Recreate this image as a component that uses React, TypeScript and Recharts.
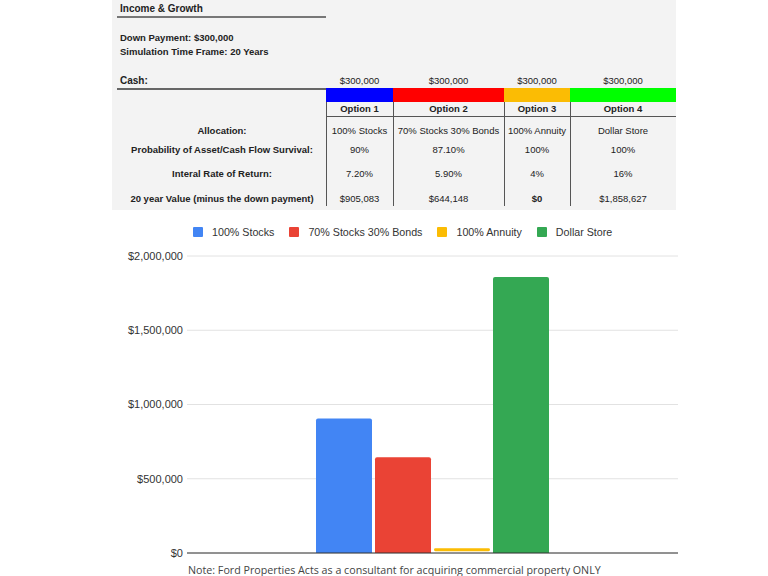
import { BarChart, Bar, XAxis, YAxis, CartesianGrid, ReferenceLine, Legend } from 'recharts';

// table
const options = ['Option 1', 'Option 2', 'Option 3', 'Option 4'];
const cash = ['$300,000', '$300,000', '$300,000', '$300,000'];
const allocation = ['100% Stocks', '70% Stocks 30% Bonds', '100% Annuity', 'Dollar Store'];
const survival = ['90%', '87.10%', '100%', '100%'];
const irr = ['7.20%', '5.90%', '4%', '16%'];
const values20 = ['$905,083', '$644,148', '$0', '$1,858,627'];
const bandColors = ['#0000ff', '#ff0000', '#fbbc04', '#00ff00'];

// chart
const seriesKeys = ['stocks', 'bonds', 'annuity', 'dollar'];
const seriesNames = ['100% Stocks', '70% Stocks 30% Bonds', '100% Annuity', 'Dollar Store'];
const seriesColors = ['#4285f4', '#ea4335', '#fbbc04', '#34a853'];
const stocksValue = 905083;
const bondsValue = 644148;
const annuityRange = [12000, 32000];
const dollarValue = 1858627;
const yTicks = [0, 500000, 1000000, 1500000, 2000000];

const data = [
  { name: '20 year Value', stocks: stocksValue, bonds: bondsValue, annuity: annuityRange, dollar: dollarValue },
];

const colEdges = [326, 393, 504, 570, 676];
const labelX = 222;
const FONT = '"Liberation Sans", Arial, sans-serif';

function T({ x, y, children, bold = false, align = 'center', size = 9.5 }: any) {
  return (
    <div
      style={{
        position: 'absolute',
        left: x,
        top: y,
        transform: align === 'center' ? 'translate(-50%, -50%)' : 'translate(0, -50%)',
        fontFamily: FONT,
        fontSize: size,
        fontWeight: bold ? 700 : 400,
        color: '#222',
        whiteSpace: 'nowrap',
        lineHeight: 1,
      }}
    >
      {children}
    </div>
  );
}

function Line({ x, y, w, h, color = '#555' }: any) {
  return <div style={{ position: 'absolute', left: x, top: y, width: w, height: h, background: color }} />;
}

function LegendContent() {
  return (
    <div style={{ display: 'flex', alignItems: 'center', paddingLeft: 193, fontFamily: FONT, fontSize: 10.7, color: '#333' }}>
      {seriesNames.map((n, i) => (
        <div key={n} style={{ display: 'flex', alignItems: 'center', marginRight: 15 }}>
          <div style={{ width: 10, height: 10, background: seriesColors[i], borderRadius: 1, marginRight: 9 }} />
          <span>{n}</span>
        </div>
      ))}
    </div>
  );
}

export default function App() {
  const centers = options.map((_, i) => (colEdges[i] + colEdges[i + 1]) / 2);
  const rows = [
    { label: 'Allocation:', vals: allocation, y: 131 },
    { label: 'Probability of Asset/Cash Flow Survival:', vals: survival, y: 150 },
    { label: 'Interal Rate of Return:', vals: irr, y: 174 },
    { label: '20 year Value (minus the  down payment)', vals: values20, y: 199 },
  ];

  return (
    <div style={{ position: 'absolute', left: 0, top: 0, width: 768, height: 576, background: '#fff', overflow: 'hidden' }}>
      {/* spreadsheet block */}
      <div style={{ position: 'absolute', left: 112, top: 0, width: 564, height: 210, background: '#f3f3f3' }} />
      <T x={120} y={9} bold align="left" size={10}>Income &amp; Growth</T>
      <Line x={117} y={16} w={209} h={1.5} color="#777" />
      <T x={120} y={38} bold align="left">Down Payment: $300,000</T>
      <T x={120} y={52} bold align="left">Simulation Time Frame: 20 Years</T>
      <T x={120} y={81} bold align="left" size={10}>Cash:</T>
      {cash.map((c, i) => (
        <T key={'c' + i} x={centers[i]} y={81}>{c}</T>
      ))}
      <Line x={117} y={88} w={209} h={1.5} color="#666" />
      {bandColors.map((c, i) => (
        <Line key={'b' + i} x={colEdges[i]} y={88} w={colEdges[i + 1] - colEdges[i]} h={14} color={c} />
      ))}
      {options.map((o, i) => (
        <T key={'o' + i} x={centers[i]} y={109} bold>{o}</T>
      ))}
      <Line x={326} y={116} w={350} h={1} color="#555" />
      {colEdges.slice(0, 4).map((x, i) => (
        <Line key={'v' + i} x={x} y={102} w={1} h={104} color="#555" />
      ))}
      {rows.map((r) => (
        <div key={r.label}>
          <T x={labelX} y={r.y} bold>{r.label}</T>
          {r.vals.map((v, i) => (
            <T key={i} x={centers[i]} y={r.y} bold={v === '$0'}>{v}</T>
          ))}
        </div>
      ))}

      {/* chart */}
      <div style={{ position: 'absolute', left: 0, top: 0 }}>
        <BarChart
          width={768}
          height={576}
          data={data}
          margin={{ top: 244, right: 90, bottom: 23, left: 107 }}
          barSize={56}
          barGap={3}
        >
          <CartesianGrid vertical={false} stroke="#e2e2e2" />
          <XAxis dataKey="name" hide />
          <YAxis
            width={80}
            domain={[0, 2000000]}
            ticks={yTicks}
            axisLine={false}
            tickLine={false}
            tickSize={0}
            tickMargin={4}
            tick={{ fill: '#333', fontSize: 11, fontFamily: FONT }}
            tickFormatter={(v: number) => '$' + v.toLocaleString('en-US')}
          />
          <ReferenceLine y={0} stroke="#333" strokeWidth={1} />
          <Legend
            verticalAlign="top"
            content={() => <LegendContent />}
            wrapperStyle={{ position: 'absolute', top: 226, left: 0, width: 768 }}
          />
          {seriesKeys.map((k, i) => (
            <Bar
              key={k}
              dataKey={k}
              name={seriesNames[i]}
              fill={seriesColors[i]}
              radius={k === 'annuity' ? 2 : [2, 2, 0, 0]}
              isAnimationActive={false}
            />
          ))}
        </BarChart>
      </div>

      <div
        style={{
          position: 'absolute',
          left: 188,
          top: 570,
          transform: 'translate(0, -50%)',
          fontFamily: '"Open Sans", sans-serif',
          fontSize: 10.7,
          color: '#444',
          whiteSpace: 'nowrap',
          lineHeight: 1,
        }}
      >
        Note: Ford Properties Acts as a consultant for acquiring commercial property ONLY
      </div>
    </div>
  );
}
